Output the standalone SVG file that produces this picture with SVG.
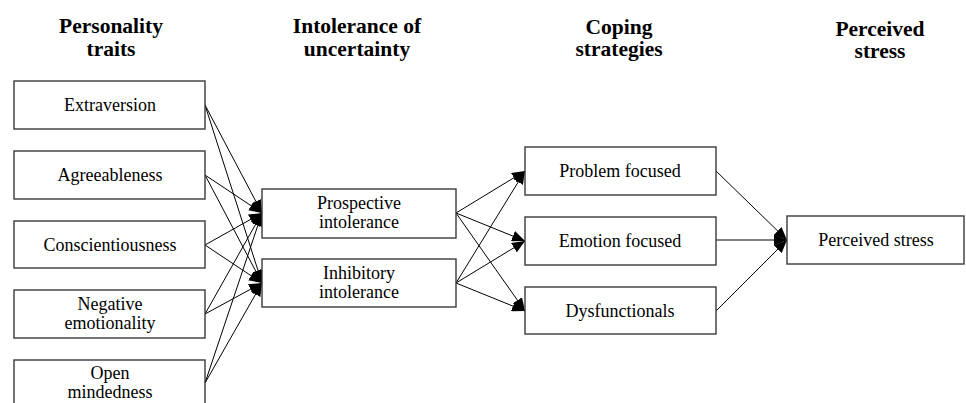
<svg xmlns="http://www.w3.org/2000/svg" width="966" height="403" viewBox="0 0 966 403">
<style>
.box{fill:#fff;stroke:#3a3a3a;stroke-width:1.4}
.t{font-family:"Liberation Serif","DejaVu Serif",serif;font-size:18px;fill:#000;text-anchor:middle}
.h{font-family:"Liberation Serif","DejaVu Serif",serif;font-size:21.5px;font-weight:bold;fill:#000;text-anchor:middle}
.c{stroke:#000;stroke-width:1;fill:none;marker-end:url(#ah)}
</style>
<defs>
<marker id="ah" markerUnits="userSpaceOnUse" markerWidth="14" markerHeight="11" refX="13" refY="5.5" orient="auto">
<path d="M0,0 L13,5.5 L0,11 Z" fill="#000"/>
</marker>
</defs>
<g id="headers">
<text class="h" x="111" y="33">Personality</text>
<text class="h" x="111" y="56">traits</text>
<text class="h" x="357" y="33">Intolerance of</text>
<text class="h" x="357" y="56">uncertainty</text>
<text class="h" x="619" y="34">Coping</text>
<text class="h" x="619" y="56">strategies</text>
<text class="h" x="880" y="36">Perceived</text>
<text class="h" x="880" y="58">stress</text>
</g>
<g id="connectors">
<line class="c" x1="205" y1="105" x2="262" y2="213"/>
<line class="c" x1="205" y1="105" x2="262" y2="283"/>
<line class="c" x1="205" y1="175" x2="262" y2="213"/>
<line class="c" x1="205" y1="175" x2="262" y2="283"/>
<line class="c" x1="205" y1="245" x2="262" y2="213"/>
<line class="c" x1="205" y1="245" x2="262" y2="283"/>
<line class="c" x1="205" y1="314" x2="262" y2="213"/>
<line class="c" x1="205" y1="314" x2="262" y2="283"/>
<line class="c" x1="205" y1="383" x2="262" y2="213"/>
<line class="c" x1="205" y1="383" x2="262" y2="283"/>
<line class="c" x1="456" y1="213" x2="525" y2="171"/>
<line class="c" x1="456" y1="213" x2="525" y2="241"/>
<line class="c" x1="456" y1="213" x2="525" y2="311"/>
<line class="c" x1="456" y1="283" x2="525" y2="171"/>
<line class="c" x1="456" y1="283" x2="525" y2="241"/>
<line class="c" x1="456" y1="283" x2="525" y2="311"/>
<line class="c" x1="716" y1="171" x2="787" y2="240"/>
<line class="c" x1="716" y1="240" x2="787" y2="240"/>
<line class="c" x1="716" y1="311" x2="787" y2="240"/>
</g>
<g id="extraversion">
<rect class="box" x="14" y="81" width="191" height="48"/>
<text class="t" x="110" y="111">Extraversion</text>
</g>
<g id="agreeableness">
<rect class="box" x="14" y="151" width="191" height="48"/>
<text class="t" x="110" y="181">Agreeableness</text>
</g>
<g id="conscientiousness">
<rect class="box" x="14" y="221" width="191" height="47"/>
<text class="t" x="110" y="251">Conscientiousness</text>
</g>
<g id="negative">
<rect class="box" x="14" y="290" width="191" height="48"/>
<text class="t" x="110" y="310">Negative</text>
<text class="t" x="110" y="329">emotionality</text>
</g>
<g id="open">
<rect class="box" x="14" y="360" width="191" height="50"/>
<text class="t" x="110" y="379">Open</text>
<text class="t" x="110" y="398">mindedness</text>
</g>
<g id="prospective">
<rect class="box" x="262" y="189" width="194" height="49"/>
<text class="t" x="359" y="209">Prospective</text>
<text class="t" x="359" y="228">intolerance</text>
</g>
<g id="inhibitory">
<rect class="box" x="262" y="259" width="194" height="48"/>
<text class="t" x="359" y="279">Inhibitory</text>
<text class="t" x="359" y="298">intolerance</text>
</g>
<g id="problem">
<rect class="box" x="525" y="147" width="191" height="48"/>
<text class="t" x="620" y="177">Problem focused</text>
</g>
<g id="emotion">
<rect class="box" x="525" y="217" width="191" height="48"/>
<text class="t" x="620" y="247">Emotion focused</text>
</g>
<g id="dysfunctionals">
<rect class="box" x="525" y="287" width="191" height="47"/>
<text class="t" x="620" y="317">Dysfunctionals</text>
</g>
<g id="stress">
<rect class="box" x="787" y="216" width="177" height="48"/>
<text class="t" x="876" y="246">Perceived stress</text>
</g>
</svg>
